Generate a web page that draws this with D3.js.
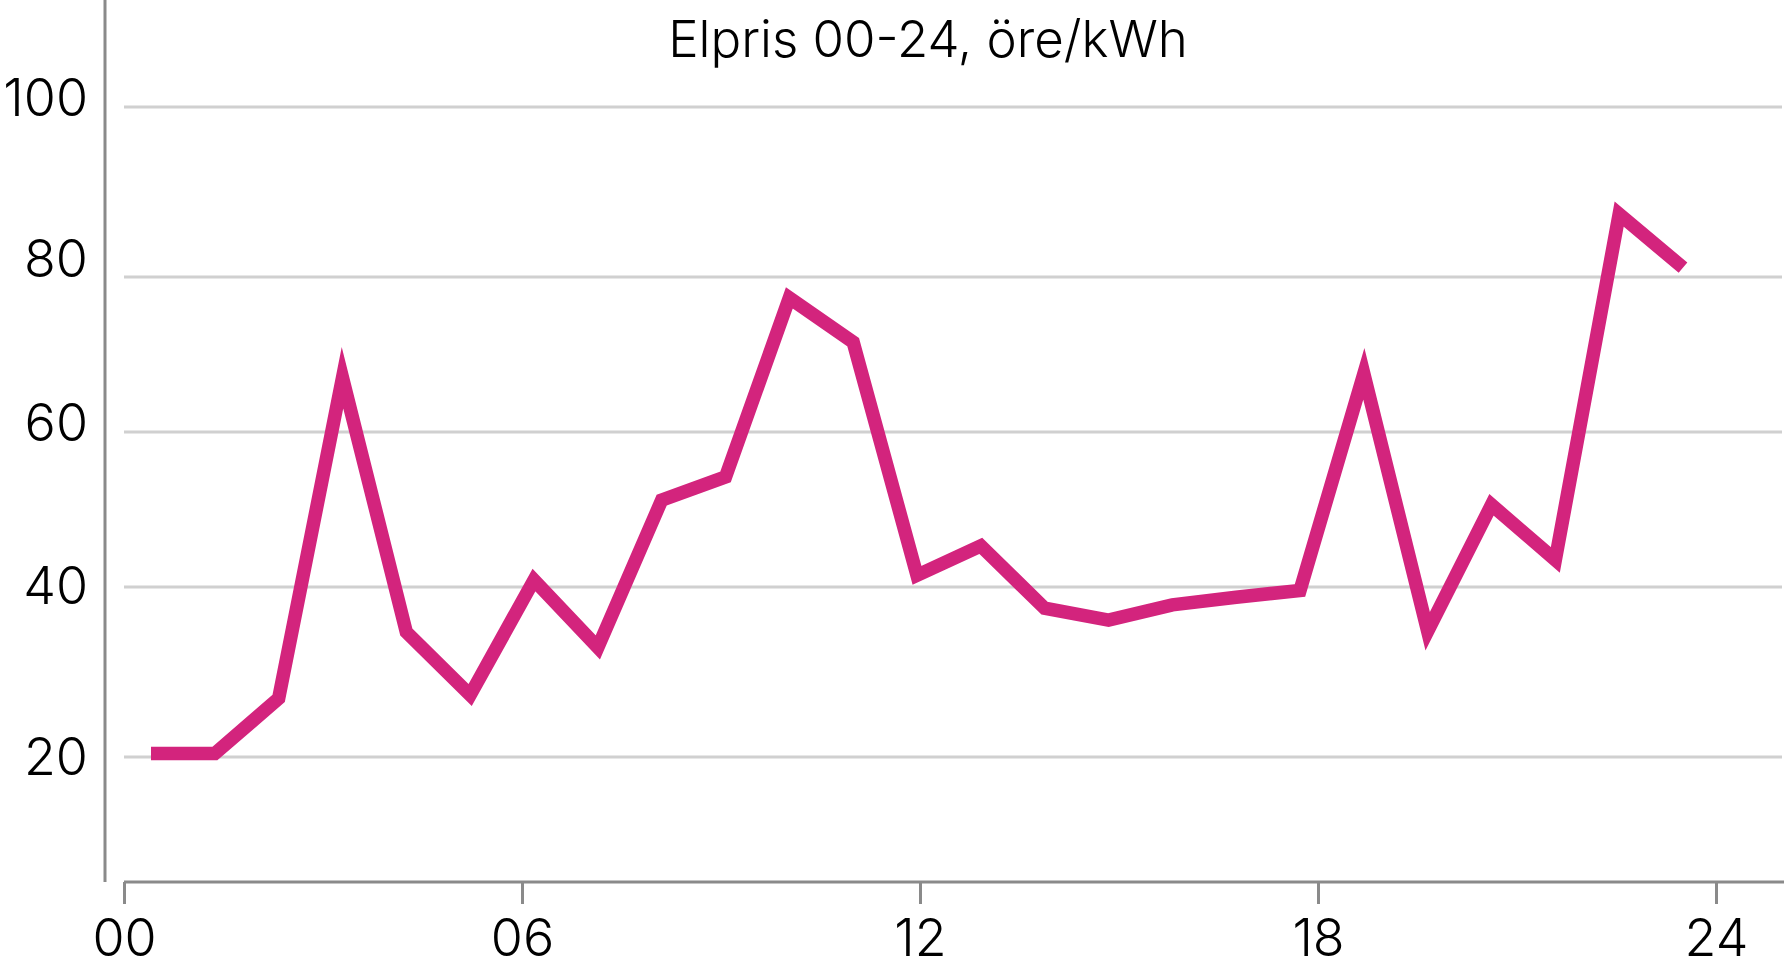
<!DOCTYPE html>
<html>
<head>
<meta charset="utf-8">
<script src="https://cdn.jsdelivr.net/npm/d3@7"></script>
<style>
  html, body { margin: 0; padding: 0; background: #ffffff; }
  svg { display: block; }
  text { font-family: Inter, "Liberation Sans", Arial, sans-serif; font-weight: 300; fill: #000; }
</style>
</head>
<body>
<svg id="chart" width="1784" height="969"></svg>
<script>
// ---- data ----
const title = "Elpris 00-24, öre/kWh";
const hours = [0, 1, 2, 3, 4, 5, 6, 7, 8, 9, 10, 11, 12, 13, 14, 15, 16, 17, 18, 19, 20, 21, 22, 23, 24];
const prices = [20.4, 20.4, 26.9, 67.0, 34.7, 27.3, 40.9, 32.9, 51.2, 54.2, 77.3, 71.6, 41.5, 45.3,
                37.5, 36.1, 37.9, 38.8, 39.6, 67.5, 34.8, 50.6, 43.5, 87.4, 81.1];
const xTickValues = [0, 6, 12, 18, 24];
const xTickLabels = ["00", "06", "12", "18", "24"];
const yTickValues = [20, 40, 60, 80, 100];

// ---- layout ----
const W = 1784, H = 969;
const svg = d3.select("#chart");

const xAxisScale = d3.scaleLinear().domain([0, 24]).range([124, 1716]);
const xPoint = d3.scalePoint().domain(hours).range([151, 1683]);
const y = d3.scaleLinear().domain(yTickValues).range([757, 587, 432, 277, 107]);
const yLabel = d3.scaleLinear().domain(yTickValues).range([758, 587, 424, 260, 99]);

const axisColor = "#8a8a8a";
const gridColor = "#d0d0d0";
const lineColor = "#d3247d";
const fontSize = 52;

// gridlines
svg.append("g").selectAll("line").data(yTickValues).join("line")
  .attr("x1", 124).attr("x2", 1782)
  .attr("y1", d => y(d)).attr("y2", d => y(d))
  .attr("stroke", gridColor).attr("stroke-width", 3);

// y axis line
svg.append("line").attr("x1", 105).attr("x2", 105).attr("y1", 0).attr("y2", 882)
  .attr("stroke", axisColor).attr("stroke-width", 3);

// y labels
const yAx = svg.append("g").attr("transform", "translate(105,0)")
  .call(d3.axisLeft(yLabel).tickValues(yTickValues).tickSize(0).tickPadding(17).tickFormat(d3.format("d")));
yAx.select(".domain").remove();
yAx.selectAll("text").attr("font-size", fontSize).attr("font-family", null).attr("fill", "#000");

// x axis
svg.append("line").attr("x1", 124).attr("x2", W).attr("y1", 882).attr("y2", 882)
  .attr("stroke", axisColor).attr("stroke-width", 3);
const xAx = svg.append("g").attr("transform", "translate(0,882)")
  .call(d3.axisBottom(xAxisScale).tickValues(xTickValues).tickSize(22).tickPadding(15)
    .tickFormat((d, i) => xTickLabels[i]));
xAx.select(".domain").remove();
xAx.selectAll(".tick line").attr("stroke", axisColor).attr("stroke-width", 3);
xAx.selectAll("text").attr("font-size", fontSize).attr("font-family", null).attr("fill", "#000");

// line
const pts = hours.map((h, i) => ({ h: h, v: prices[i] }));
svg.append("path").datum(pts)
  .attr("d", d3.line().x(d => xPoint(d.h)).y(d => y(d.v)))
  .attr("fill", "none").attr("stroke", lineColor).attr("stroke-width", 13.5)
  .attr("stroke-linejoin", "miter").attr("stroke-miterlimit", 12).attr("stroke-linecap", "butt");

// title
svg.append("text").attr("x", 928).attr("y", 57).attr("text-anchor", "middle")
  .attr("font-size", 51).text(title);
</script>
</body>
</html>
